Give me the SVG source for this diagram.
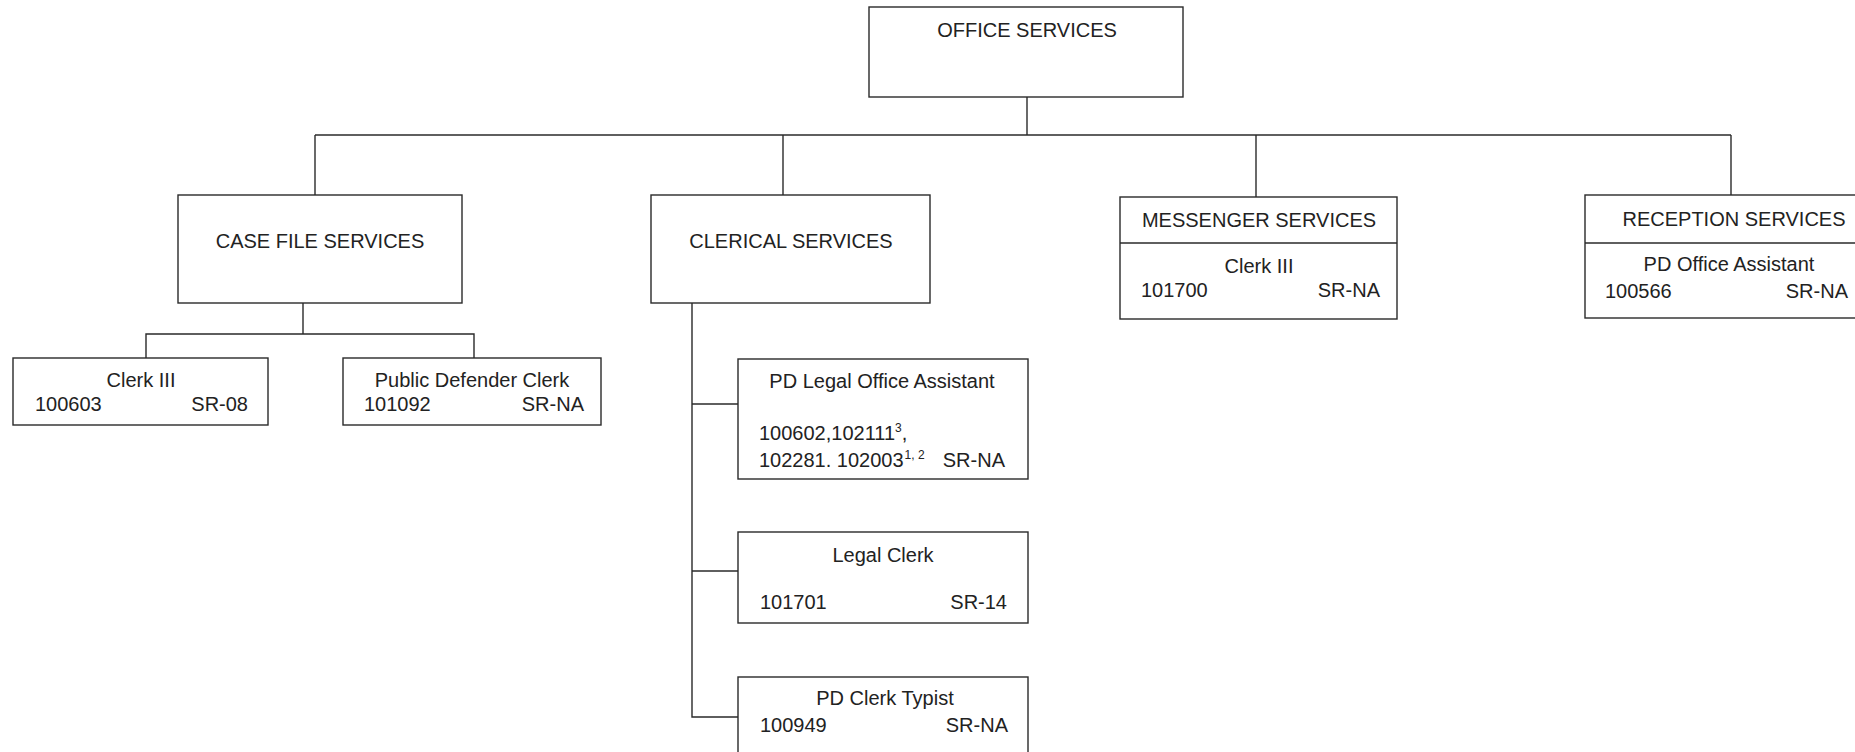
<svg xmlns="http://www.w3.org/2000/svg" width="1855" height="752" viewBox="0 0 1855 752">
<style>
  .box { fill: #ffffff; stroke: #2a2a2a; stroke-width: 1.4; }
  .conn { fill: none; stroke: #2a2a2a; stroke-width: 1.4; }
  text { font-family: "Liberation Sans", Arial, sans-serif; font-size: 20px; fill: #222222; }
  .c { text-anchor: middle; }
  .r { text-anchor: end; }
  .sup { font-size: 12px; }
</style>
<rect width="1855" height="752" fill="#ffffff"/>
<g id="connectors">
  <path class="conn" d="M1027 97 V135"/>
  <path class="conn" d="M315 135 H1731"/>
  <path class="conn" d="M315 135 V195"/>
  <path class="conn" d="M783 135 V195"/>
  <path class="conn" d="M1256 135 V197"/>
  <path class="conn" d="M1731 135 V195"/>
  <path class="conn" d="M303 303 V334"/>
  <path class="conn" d="M146 358 V334 H474 V358"/>
  <path class="conn" d="M692 303 V717 H738"/>
  <path class="conn" d="M692 404 H738"/>
  <path class="conn" d="M692 571 H738"/>
</g>
<g id="office-services">
  <rect class="box" x="869" y="7" width="314" height="90"/>
  <text class="c" x="1027" y="37">OFFICE SERVICES</text>
</g>
<g id="case-file-services">
  <rect class="box" x="178" y="195" width="284" height="108"/>
  <text class="c" x="320" y="248">CASE FILE SERVICES</text>
</g>
<g id="clerical-services">
  <rect class="box" x="651" y="195" width="279" height="108"/>
  <text class="c" x="791" y="248">CLERICAL SERVICES</text>
</g>
<g id="messenger-services">
  <rect class="box" x="1120" y="197" width="277" height="122"/>
  <line class="conn" x1="1120" y1="243" x2="1397" y2="243"/>
  <text class="c" x="1259" y="227">MESSENGER SERVICES</text>
  <text class="c" x="1259" y="273">Clerk III</text>
  <text x="1141" y="297">101700</text>
  <text class="r" x="1380" y="297">SR-NA</text>
</g>
<g id="reception-services">
  <rect class="box" x="1585" y="195" width="290" height="123"/>
  <line class="conn" x1="1585" y1="243" x2="1875" y2="243"/>
  <text class="c" x="1734" y="226">RECEPTION SERVICES</text>
  <text class="c" x="1729" y="271">PD Office Assistant</text>
  <text x="1605" y="298">100566</text>
  <text class="r" x="1848" y="298">SR-NA</text>
</g>
<g id="clerk-iii-case">
  <rect class="box" x="13" y="358" width="255" height="67"/>
  <text class="c" x="141" y="387">Clerk III</text>
  <text x="35" y="411">100603</text>
  <text class="r" x="248" y="411">SR-08</text>
</g>
<g id="public-defender-clerk">
  <rect class="box" x="343" y="358" width="258" height="67"/>
  <text class="c" x="472" y="387">Public Defender Clerk</text>
  <text x="364" y="411">101092</text>
  <text class="r" x="584" y="411">SR-NA</text>
</g>
<g id="pd-legal-office-assistant">
  <rect class="box" x="738" y="359" width="290" height="120"/>
  <text class="c" x="882" y="388">PD Legal Office Assistant</text>
  <text x="759" y="440">100602,102111<tspan class="sup" dy="-8">3</tspan><tspan dy="8">,</tspan></text>
  <text x="759" y="467">102281. 102003<tspan class="sup" dx="1" dy="-8">1, 2</tspan></text>
  <text class="r" x="1005" y="467">SR-NA</text>
</g>
<g id="legal-clerk">
  <rect class="box" x="738" y="532" width="290" height="91"/>
  <text class="c" x="883" y="562">Legal Clerk</text>
  <text x="760" y="609">101701</text>
  <text class="r" x="1007" y="609">SR-14</text>
</g>
<g id="pd-clerk-typist">
  <rect class="box" x="738" y="677" width="290" height="90"/>
  <text class="c" x="885" y="705">PD Clerk Typist</text>
  <text x="760" y="732">100949</text>
  <text class="r" x="1008" y="732">SR-NA</text>
</g>
</svg>
